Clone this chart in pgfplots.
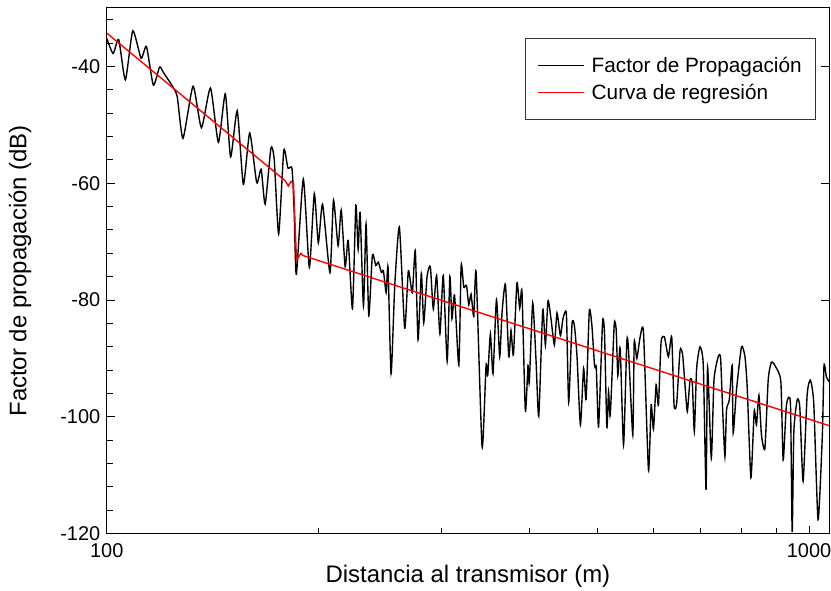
\documentclass[border=0pt]{standalone}
\usepackage{fontspec}
\setmainfont{Liberation Sans}
\usepackage{pgfplots}
\usepackage{pgfplotstable}
\pgfplotsset{compat=1.18}
\pgfplotsset{mylegline/.style={legend image code/.code={\draw[##1, line width=1.2pt] (0bp,0bp) -- (46bp,0bp);}}}
\pgfplotstableread{
x y
100.0 -35.2
102.1 -37.8
104.0 -35.4
106.3 -42.3
108.9 -33.9
111.9 -38.6
113.9 -36.6
116.5 -43.2
118.9 -40.1
120.2 -40.9
122.2 -42.2
124.2 -43.5
126.0 -45.2
128.4 -52.3
132.7 -43.4
136.4 -50.5
140.5 -43.7
144.2 -53.0
147.5 -44.7
150.1 -55.5
153.4 -47.6
156.5 -60.2
159.8 -51.4
163.5 -59.9
165.9 -57.6
168.1 -63.6
171.3 -54.0
173.2 -56.0
175.7 -68.7
178.7 -54.4
181.1 -57.4
183.6 -57.5
184.9 -65.0
186.2 -75.6
190.5 -59.3
194.3 -74.4
197.5 -61.8
200.1 -70.2
202.9 -63.6
207.9 -75.3
210.3 -62.9
213.5 -70.7
215.7 -64.6
218.5 -74.3
220.7 -69.8
223.8 -81.5
226.3 -63.8
228.0 -71.3
229.5 -65.0
232.0 -81.0
234.0 -67.0
236.1 -82.7
238.9 -72.3
241.6 -74.1
243.6 -73.5
246.1 -75.3
247.7 -75.0
249.9 -78.7
251.5 -74.4
254.0 -92.6
257.1 -77.5
261.0 -67.5
265.6 -84.8
268.8 -75.0
272.3 -78.7
275.0 -71.5
277.5 -86.8
280.5 -75.4
282.7 -83.9
285.8 -76.0
288.9 -74.3
291.7 -81.5
294.9 -75.8
298.1 -85.8
301.4 -75.8
305.3 -90.5
308.0 -76.0
310.1 -83.2
312.8 -79.2
317.2 -91.2
319.6 -74.1
322.4 -77.8
325.3 -77.5
327.7 -80.8
330.2 -79.0
333.1 -82.8
335.7 -75.3
342.3 -105.1
346.8 -91.2
348.7 -92.9
351.8 -85.8
354.8 -92.6
358.9 -79.9
362.7 -89.7
365.5 -82.1
369.6 -77.3
373.6 -89.7
376.4 -85.2
379.4 -89.4
383.8 -77.1
387.3 -81.4
390.2 -78.6
394.5 -99.0
398.0 -91.2
399.7 -94.1
404.1 -80.5
408.5 -90.2
412.2 -99.9
417.6 -81.7
421.3 -87.7
424.9 -80.1
429.1 -83.2
433.9 -87.7
437.6 -82.2
442.5 -86.1
446.3 -83.2
451.3 -82.4
454.7 -97.5
459.7 -84.1
463.3 -84.4
467.3 -89.7
472.5 -101.4
477.5 -91.7
481.4 -97.0
486.5 -81.9
490.7 -84.4
495.0 -91.3
497.8 -91.6
501.5 -101.7
508.1 -83.8
511.4 -85.8
515.3 -101.8
518.2 -95.7
521.1 -99.7
527.9 -84.2
531.4 -85.2
534.2 -92.9
538.4 -88.3
544.3 -104.8
550.2 -87.1
553.3 -88.6
561.1 -103.1
563.7 -87.2
568.5 -90.0
574.8 -86.3
581.1 -85.5
590.7 -109.1
595.9 -97.9
600.4 -102.1
605.7 -94.5
610.3 -98.0
615.6 -87.2
622.3 -86.3
630.5 -89.7
637.4 -86.3
642.4 -98.0
647.9 -97.7
655.1 -88.6
660.7 -89.4
666.7 -95.4
671.0 -99.1
676.9 -93.7
682.0 -94.3
686.5 -102.5
691.7 -91.7
699.4 -88.0
707.0 -91.2
713.4 -112.5
717.0 -91.4
725.8 -107.1
732.2 -93.7
742.5 -89.7
748.2 -89.9
753.2 -98.6
759.1 -106.8
763.0 -98.8
769.8 -97.1
777.3 -91.2
779.8 -102.8
788.3 -95.4
801.3 -88.0
810.4 -89.7
816.4 -94.9
826.4 -110.4
835.4 -99.0
841.6 -101.4
848.4 -96.3
855.5 -103.1
865.2 -105.4
874.6 -93.7
884.0 -90.6
896.9 -91.5
911.7 -94.0
918.6 -107.4
928.6 -97.9
940.7 -97.7
946.1 -119.7
951.3 -102.5
961.7 -97.1
970.0 -98.3
980.6 -111.0
993.6 -96.3
1004.2 -93.7
1015.5 -97.7
1029.9 -117.6
1044.5 -103.1
1050.2 -91.2
1058.3 -93.1
1067.6 -94.0
}\factor
\pgfplotstableread{
x y
100.0 -34.3
179.6 -59.6
181.4 -60.5
183.0 -59.7
184.5 -60.0
186.3 -73.2
189.0 -72.0
190.5 -72.4
1067.6 -101.5
}\regresion
\begin{document}
\begin{tikzpicture}
\begin{axis}[
  scale only axis, width=724bp, height=527bp,
  xmode=log, log basis x=10,
  xmin=100, xmax=1067.6, ymin=-120, ymax=-30,
  xtick={100,1000}, xticklabels={100,1000},
  minor xtick={200,300,400,500,600,700,800,900},
  ytick={-120,-100,-80,-60,-40},
  minor ytick={-116,-112,-108,-104,-96,-92,-88,-84,-76,-72,-68,-64,-56,-52,-48,-44,-36,-32},
  tick align=inside, xtick pos=left, ytick pos=left,
  major tick length=8bp, minor tick length=6bp,
  every tick/.style={black, line width=1pt},
  axis line style={line width=1pt},
  /pgf/number format/assume math mode=true,
  ticklabel style={font=\fontsize{20bp}{22bp}\selectfont},
  xticklabel style={yshift=-6bp},
  yticklabel style={xshift=-3bp},
  xlabel={Distancia al transmisor (m)},
  ylabel={Factor de propagación (dB)},
  every axis x label/.style={at={(axis description cs:0.5,-0.0816)}, anchor=center, font=\fontsize{24bp}{26bp}\selectfont},
  every axis y label/.style={at={(axis description cs:-0.1202,0.5)}, anchor=center, rotate=90, font=\fontsize{24bp}{26bp}\selectfont},
  legend style={at={(rel axis cs:0.982,0.943)}, anchor=north east, draw=black!80, line width=0.8pt,
    font=\fontsize{20.8bp}{24bp}\selectfont, inner xsep=12bp, inner ysep=17bp, row sep=6bp,
    column sep=5bp, cells={anchor=west}},
  mylegline,
]
\addplot[black, line width=1.4pt, smooth, tension=0.35] table[x=x, y=y] {\factor};
\addlegendentry{Factor de Propagación}
\addplot[red, line width=1.4pt] table[x=x, y=y] {\regresion};
\addlegendentry{Curva de regresión}
\end{axis}
\begin{axis}[
  scale only axis, width=724bp, height=527bp,
  xmode=log, xmin=100, xmax=1067.6, ymin=-120, ymax=-30,
  hide x axis, axis y line*=right,
  ytick={-120,-100,-80,-60,-40}, yticklabels={}, minor ytick={},
  tick align=inside, major tick length=8bp,
  every tick/.style={black, line width=1pt},
  axis line style={line width=1pt},
]
\end{axis}
\pgfresetboundingbox
\path[use as bounding box] ([xshift=-107bp, yshift=-57bp]current axis.south west) rectangle ([xshift=2bp, yshift=8bp]current axis.north east);
\end{tikzpicture}
\end{document}
